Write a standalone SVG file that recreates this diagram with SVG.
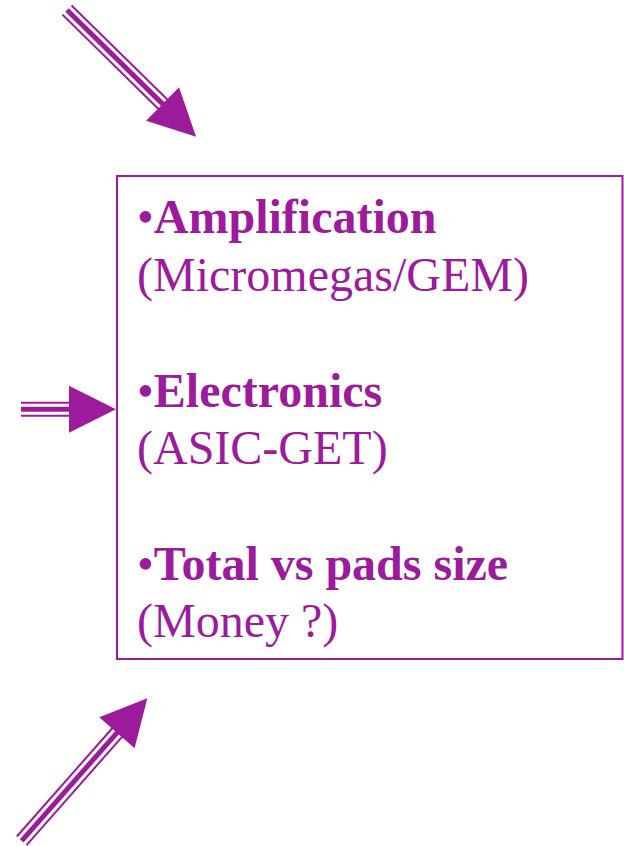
<svg xmlns="http://www.w3.org/2000/svg" width="624" height="846" viewBox="0 0 624 846">
<style>
.o{stroke:#9b1b9b;stroke-width:15;fill:none}
.w{stroke:#ffffff;stroke-width:11;fill:none}
.m{stroke:#9b1b9b;stroke-width:5;fill:none}
.hd{fill:#9b1b9b}
.b{font-family:"Liberation Serif","Times New Roman",serif;font-size:48px;font-weight:bold;fill:#9b1b9b}
.r{font-family:"Liberation Serif","Times New Roman",serif;font-size:48px;fill:#9b1b9b}
</style>
<rect width="624" height="846" fill="#ffffff"/>
<g id="connectors">
<g id="arrow-top" transform="translate(67,10) rotate(44.5)">
<line class="o" x1="0" y1="0" x2="135" y2="0"/>
<line class="w" x1="-1" y1="0" x2="135" y2="0"/>
<line class="m" x1="0" y1="0" x2="135" y2="0"/>
<polygon class="hd" points="134,-23.5 181,0 134,23.5"/>
</g>
<g id="arrow-left" transform="translate(21,409.3)">
<line class="o" x1="0" y1="0" x2="49" y2="0"/>
<line class="w" x1="-1" y1="0" x2="49" y2="0"/>
<line class="m" x1="0" y1="0" x2="49" y2="0"/>
<polygon class="hd" points="48,-23.5 95,0 48,23.5"/>
</g>
<g id="arrow-bottom" transform="translate(21.7,840.8) rotate(-48.6)">
<line class="o" x1="0" y1="0" x2="145" y2="0"/>
<line class="w" x1="-1" y1="0" x2="145" y2="0"/>
<line class="m" x1="0" y1="0" x2="145" y2="0"/>
<polygon class="hd" points="144,-23.5 190,0 144,23.5"/>
</g>
</g>
<g id="box">
<rect x="117" y="176" width="505.5" height="483" fill="none" stroke="#9b1b9b" stroke-width="2"/>
<text x="137" y="233"><tspan class="r">•</tspan><tspan class="b">Amplification</tspan></text>
<text class="r" x="137" y="291">(Micromegas/GEM)</text>
<text x="137" y="407"><tspan class="r">•</tspan><tspan class="b">Electronics</tspan></text>
<text class="r" x="137" y="464">(ASIC-GET)</text>
<text x="137" y="580"><tspan class="r">•</tspan><tspan class="b">Total vs pads size</tspan></text>
<text class="r" x="137" y="637">(Money ?)</text>
</g>
</svg>
